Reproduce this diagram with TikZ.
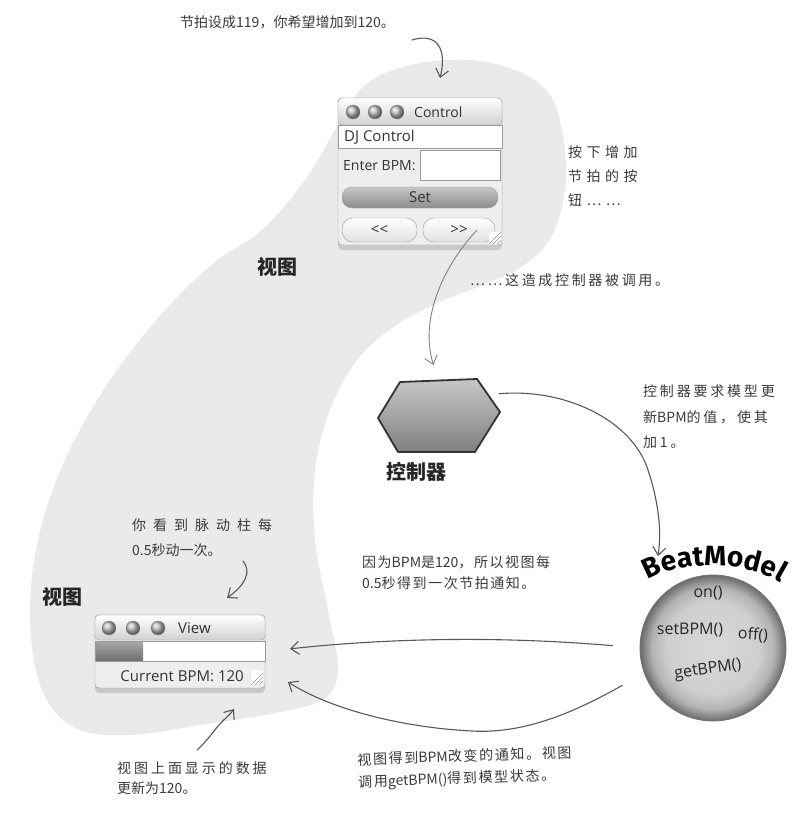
\documentclass[tikz,border=0pt]{standalone}
\usepackage{fontspec}
\newfontfamily\cjk{Noto Sans CJK SC}
\newfontfamily\gui{Open Sans}
\newfontfamily\brand{Fira Sans}
\usetikzlibrary{positioning,arrows.meta,shadows,decorations.text}

\definecolor{ink}{HTML}{3A3A3A}
\definecolor{pen}{HTML}{585858}
\definecolor{bubble}{HTML}{EAEAEA}
\definecolor{winbg}{HTML}{EEEEEE}
\definecolor{frame}{HTML}{9C9C9C}

\pgfdeclareradialshading{sphere}{\pgfpoint{0bp}{0bp}}{color(0bp)=(black!15); color(16bp)=(black!19); color(21bp)=(black!30); color(25bp)=(black!58); color(50bp)=(black!58)}

\newcommand\tight{\addfontfeature{LetterSpace=0}}

\tikzset{
  note/.style 2 args={font={\cjk\fontsize{14}{#2}\selectfont\addfontfeature{LetterSpace=#1}}, text=ink, align=left, inner sep=0pt, anchor=north west},
  tag/.style={font=\cjk\bfseries\fontsize{20}{22}\selectfont, text=black!85, inner sep=0pt},
  pencil/.style={draw=pen, line width=1.1pt, line cap=round, -{Straight Barb[length=8pt,width=13pt]}},
  win/.style={draw=frame, fill=winbg, rounded corners=4pt, inner sep=0pt, drop shadow={shadow xshift=0pt, shadow yshift=-5pt, opacity=.3}},
  titlebar/.style={draw=frame, rounded corners=4pt, top color=white, bottom color=black!18},
  knob/.style={circle, minimum size=14pt, inner sep=0pt, draw=black!45, ball color=black!25},
  gtxt/.style={font=\gui\fontsize{15}{17}\selectfont, text=black!80, inner sep=0pt},
  btn/.style={gtxt, draw=frame, rounded corners=11pt, top color=white, bottom color=black!12},
  meth/.style={font=\gui\fontsize{16}{18}\selectfont, text=black!85, inner sep=0pt}
}

\begin{document}
\begin{tikzpicture}[x=1pt, y=-1pt]
\useasboundingbox (0,0) rectangle (800,814);

% grey bubble behind the views
\fill[bubble] plot[smooth cycle, tension=0.6] coordinates {
  (410,65) (470,60) (520,72) (550,95) (562,130) (566,175) (560,215) (546,245)
  (520,268) (488,283) (440,302) (395,326) (357,360) (330,410) (315,470) (315,540)
  (328,610) (338,670) (322,700) (270,714) (200,725) (130,735) (75,728) (42,690)
  (30,620) (38,540) (65,460) (110,380) (165,310) (215,262) (262,230) (305,180)
  (338,125) (365,85)};

% control window
\node[win, minimum width=164pt, minimum height=147pt] (ctrlwin) at (420,171.5) {};
\draw[titlebar] (338,98) rectangle (502,125);
\foreach \x/\n in {353/a,375/b,397/c} \node[knob] (ck\n) at (\x,112) {};
\node[gtxt, font=\gui\fontsize{14}{16}\selectfont, anchor=west] (ctitle) at (414,112) {Control};
\draw[frame, fill=white] (338,125) rectangle (502,148);
\node[gtxt, anchor=west] (djlabel) at (344,137) {DJ Control};
\node[gtxt, font=\gui\fontsize{14}{16}\selectfont, anchor=west] (bpmlabel) at (343,166) {Enter BPM:};
\node[draw=frame, fill=white, minimum width=80pt, minimum height=30pt, inner sep=0pt] (bpmfield) at (460,165) {};
\node[btn, top color=black!22, bottom color=black!45, minimum width=156pt, minimum height=21pt, rounded corners=10pt] (setbtn) at (420,197.5) {Set};
\node[btn, minimum width=75pt, minimum height=24pt] (back) at (379.5,230) {<\kern0pt<};
\node[btn, minimum width=72pt, minimum height=24pt] (fwd) at (459,230) {>\kern0pt>};
\fill[white] (489,232) rectangle (501,244);
\foreach \d in {4,8,12} \draw[black!40] (501-\d,244) -- (501,244-\d);

% view window
\node[win, minimum width=170pt, minimum height=73pt] (viewwin) at (180,651.5) {};
\draw[titlebar] (95,615) rectangle (265,640);
\foreach \x/\n in {109/a,133/b,158/c} \node[knob] (vk\n) at (\x,628) {};
\node[gtxt, anchor=west] (vtitle) at (178,628) {View};
\draw[frame, fill=white] (95,641) rectangle (265,661);
\fill[top color=black!35, bottom color=black!55] (96,642) rectangle (143,660);
\node[gtxt, anchor=east] (curbpm) at (244,676) {Current BPM: 120};
\fill[white] (251,670) rectangle (263,685);
\foreach \d in {4,8,12} \draw[black!40] (263-\d,685) -- (263,685-\d);

% controller
\node[minimum width=122pt, minimum height=73pt, inner sep=0pt] (ctrl) at (438,416) {};
\draw[line width=1.8pt, black!80, line join=round, top color=black!22, bottom color=black!50]
  (378,418) -- (400,382) -- (477,379) -- (500,412) -- (475,452) -- (398,452) -- cycle;
\node[tag, below=9pt of ctrl, xshift=-22pt] (ctrltag) {控制器};

% model
\node[circle, minimum size=146pt, shading=sphere, draw=black!55, line width=0.8pt] (model) at (713,648) {};
\path[decorate, decoration={text along path, text align=center,
  text={|\brand\bfseries\fontsize{28}{30}\selectfont|BeatModel}}]
  (636,590) .. controls (665,557) and (760,557) .. (792,592);
\node[meth] (mon) at (708,593) {on()};
\node[meth] (mset) at (690,630) {setBPM()};
\node[meth, rotate=-4] (moff) at (753,635) {off()};
\node[meth, rotate=8] (mget) at (708,670) {getBPM()};

% labels
\node[tag] (viewtag) at (277,267) {视图};
\node[tag] (viewtag2) at (62,597) {视图};

% notes
\node[note={0}{16}, anchor=west] (beatset) at (180,22) {节拍设成119，你希望增加到120。};
\node[note={32}{24}] (pressnote) at (568,145) {按下增加\\节拍的按\\钮……};
\node[note={19}{16}, anchor=west] (callnote) at (470,280) {……这造成控制器被调用。};
\node[note={20}{25.5}] (asknote) at (643,385) {控制器要求模型更\\新{\tight BPM}的值，使其\\加1。};
\node[note={50}{25}] (pulsenote) at (132,518) {你看到脉动柱每\\{\tight 0.5秒动一次。}};
\node[note={11}{21}] (beatnote) at (362,555) {因为{\tight BPM}是{\tight 120}，所以视图每\\{\tight 0.5}秒得到一次节拍通知。};
\node[note={21}{20}] (datanote) at (117,761) {视图上面显示的数据\\{\tight 更新为120。}};
\node[note={12}{22}, rotate=2] (statenote) at (357,753) {视图得到{\tight BPM}改变的通知。视图\\调用{\tight getBPM()}得到模型状态。};

% connectors
\coordinate (beatfrom) at (412,40);
\coordinate (toptip) at (440,78);
\coordinate (modeltip) at (658,556);
\coordinate (viewpt) at (288,682);
\coordinate (pulsefrom) at (243,561);
\coordinate (pulsetip) at (227,598);
\coordinate (datafrom) at (197,750);
\coordinate (datatip) at (234,709);

\draw[pencil] (beatfrom) .. controls (438,32) and (447,50) .. (toptip);
\draw[pencil, draw=black!50, line width=0.9pt, shorten >=15pt] ([xshift=18pt]fwd.center) .. controls (440,270) and (420,322) .. (ctrl.north);
\draw[pencil] (ctrl.20) .. controls (565,388) and (632,420) .. (648,470) .. controls (658,500) and (662,530) .. (modeltip);
\draw[pencil, shorten <=27pt, shorten >=25pt] (model.west) .. controls (500,636) and (390,638) .. (viewwin.east);
\draw[pencil, shorten <=25pt] (model.200) .. controls (575,712) and (525,734) .. (472,731) .. controls (410,728) and (335,712) .. (viewpt);
\draw[pencil] (pulsefrom) .. controls (252,572) and (245,585) .. (pulsetip);
\draw[pencil] (datafrom) .. controls (210,738) and (214,730) .. (220,724) .. controls (225,718) and (229,716) .. (datatip);
\end{tikzpicture}
\end{document}
